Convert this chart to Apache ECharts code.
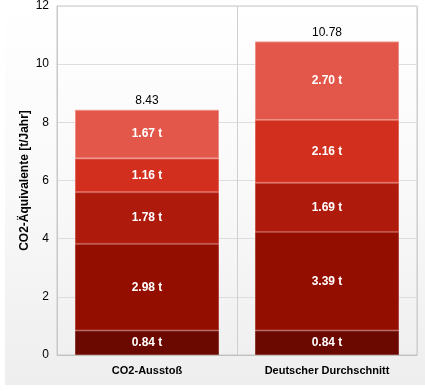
<!DOCTYPE html>
<html>
<head>
<meta charset="utf-8">
<script src="https://cdn.jsdelivr.net/npm/echarts@6/dist/echarts.min.js"></script>
<style>
html,body{margin:0;padding:0;background:#fff;}
#bg{position:absolute;left:5px;top:0;width:420px;height:385px;background:linear-gradient(to bottom,#ffffff 0%,#f9f9f9 50%,#eeeeee 100%);}
#c{position:absolute;left:0;top:0;width:425px;height:391px;}
</style>
</head>
<body>
<div id="bg"></div>
<div id="c"></div>
<script>
const categories = ['CO2-Ausstoß', 'Deutscher Durchschnitt'];
const seg1 = [0.84, 0.84];
const seg2 = [2.98, 3.39];
const seg3 = [1.78, 1.69];
const seg4 = [1.16, 2.16];
const seg5 = [1.67, 2.70];
const totals = [8.43, 10.78];
const yTicks = [0, 2, 4, 6, 8, 10, 12];

const colors = ['#6b0900', '#940e00', '#ae1a0c', '#d32f1f', '#e3574a'];
const borders = ['#8a3a30', '#b0443a', '#c85448', '#e0665a', '#ee8f86'];
const segs = [seg1, seg2, seg3, seg4, seg5];
const font = 'Liberation Sans, Arial, sans-serif';

const series = segs.map((d, i) => ({
  type: 'bar',
  stack: 'a',
  data: d,
  barWidth: '80%',
  itemStyle: { color: colors[i], borderColor: borders[i], borderWidth: 1 },
  label: {
    show: true, position: 'inside', color: '#fff', fontWeight: 'bold',
    fontSize: 12, fontFamily: font,
    formatter: p => p.value.toFixed(2) + ' t'
  },
  emphasis: { disabled: true }
}));
series.push({
  type: 'bar', stack: 'a', data: totals.map(() => 0), barWidth: '80%',
  itemStyle: { color: 'transparent' },
  label: {
    show: true, position: 'top', color: '#000', fontSize: 12, fontFamily: font, distance: 3,
    formatter: p => totals[p.dataIndex].toFixed(2)
  },
  silent: true
});

const chart = echarts.init(document.getElementById('c'));
chart.setOption({
  animation: false,
  backgroundColor: 'transparent',
  grid: { left: 57, right: 8, top: 6, bottom: 36, show: true, borderColor: '#c8c8c8', borderWidth: 1, backgroundColor: 'transparent' },
  xAxis: {
    type: 'category', data: categories,
    axisLine: { lineStyle: { color: '#c0c0c0' } },
    axisTick: { show: false },
    splitLine: { show: true, lineStyle: { color: '#d0d0d0' } },
    axisLabel: { color: '#000', fontWeight: 'bold', fontSize: 11, fontFamily: font, margin: 10 }
  },
  yAxis: {
    type: 'value', min: 0, max: 12, interval: 2,
    name: 'CO2-Äquivalente [t/Jahr]', nameLocation: 'middle', nameGap: 26, nameMoveOverlap: false,
    nameTextStyle: { color: '#000', fontWeight: 'bold', fontSize: 12, fontFamily: font },
    axisLine: { show: true, lineStyle: { color: '#c8c8c8' } },
    axisTick: { show: false },
    splitLine: { lineStyle: { color: '#dddddd' } },
    axisLabel: { color: '#000', fontSize: 12, fontFamily: font, margin: 8,
      formatter: v => yTicks.includes(v) ? String(v) : '' }
  },
  series: series
});
</script>
</body>
</html>
